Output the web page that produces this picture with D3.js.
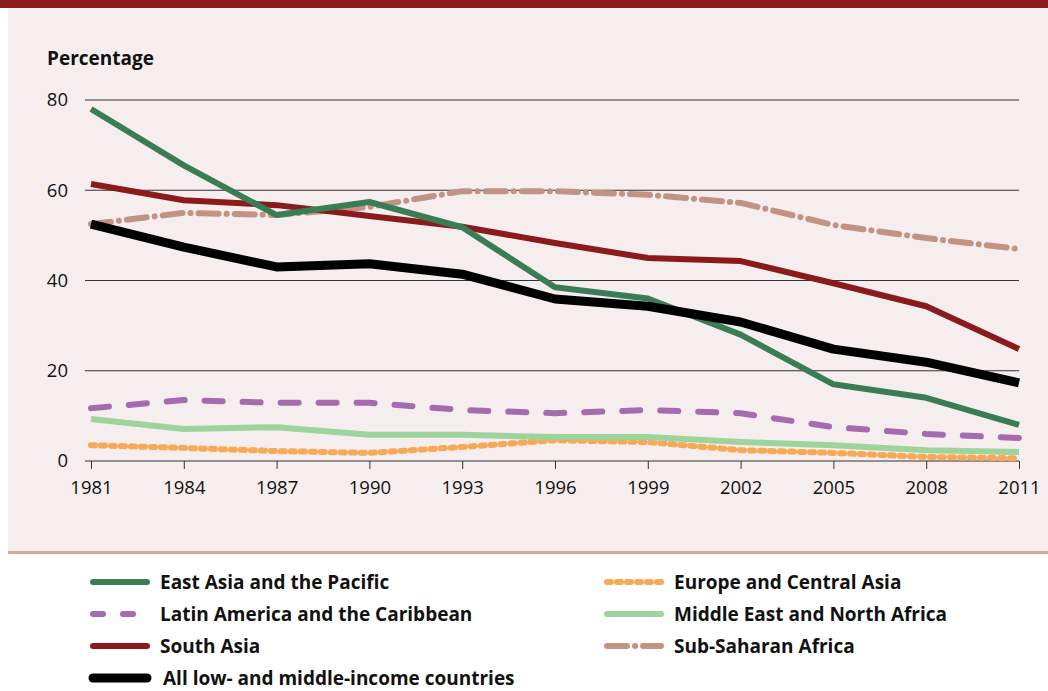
<!DOCTYPE html>
<html>
<head>
<meta charset="utf-8">
<script src="https://cdn.jsdelivr.net/npm/d3@7"></script>
<style>
  body { margin: 0; background: #fff; }
  svg text { font-family: "Open Sans", "Noto Sans", sans-serif; fill: #111; }
</style>
</head>
<body>
<div id="chart"></div>
<script>
// data
const years = [1981, 1984, 1987, 1990, 1993, 1996, 1999, 2002, 2005, 2008, 2011];
const eastAsia   = [78.0, 65.5, 54.5, 57.4, 51.8, 38.5, 36.0, 28.0, 17.0, 14.0, 8.0];
const europe     = [3.5, 2.9, 2.2, 1.8, 3.1, 4.6, 4.2, 2.4, 1.8, 0.9, 0.6];
const latinAm    = [11.7, 13.5, 12.9, 12.9, 11.3, 10.6, 11.3, 10.6, 7.5, 6.0, 5.1];
const midEast    = [9.3, 7.1, 7.5, 5.8, 5.8, 5.3, 5.3, 4.2, 3.5, 2.4, 2.0];
const southAsia  = [61.4, 57.8, 56.7, 54.3, 51.9, 48.3, 45.0, 44.3, 39.4, 34.3, 24.8];
const subSaharan = [52.5, 55.0, 54.5, 56.3, 59.8, 59.8, 59.0, 57.2, 52.3, 49.4, 47.0];
const allCountries = [52.5, 47.4, 43.0, 43.7, 41.4, 35.9, 34.3, 30.8, 24.8, 21.9, 17.3];
const yTicks = [0, 20, 40, 60, 80];

// drawing order: bottom to top
const series = [
  {name: "Sub-Saharan Africa", values: subSaharan, color: "#c29383", width: 6, dash: "20,8,0.1,8"},
  {name: "Europe and Central Asia", values: europe, color: "#f6aa57", width: 6, dash: "4,6"},
  {name: "Middle East and North Africa", values: midEast, color: "#9dd49c", width: 6, dash: null},
  {name: "Latin America and the Caribbean", values: latinAm, color: "#a46cae", width: 6, dash: "18,20"},
  {name: "South Asia", values: southAsia, color: "#8b1a1d", width: 6, dash: null},
  {name: "East Asia and the Pacific", values: eastAsia, color: "#3a7d55", width: 6, dash: null},
  {name: "All low- and middle-income countries", values: allCountries, color: "#000", width: 9, dash: null}
];

const width = 1048, height = 691;
const svg = d3.select("#chart").append("svg")
  .attr("width", width).attr("height", height);

// background panel
svg.append("rect").attr("x", 8).attr("y", 0).attr("width", width - 8).attr("height", 552)
  .attr("fill", "#f5edee");
svg.append("rect").attr("x", 0).attr("y", 0).attr("width", width).attr("height", 8)
  .attr("fill", "#8b1a1d");
svg.append("rect").attr("x", 8).attr("y", 551).attr("width", width - 8).attr("height", 3)
  .attr("fill", "#d4aa9c");

const x = d3.scalePoint().domain(years).range([91, 1019]);
const y = d3.scaleLinear().domain([0, 80]).range([461, 100]);

// gridlines
svg.append("g").selectAll("line")
  .data(yTicks.filter(d => d > 0))
  .enter().append("line")
    .attr("x1", 85).attr("x2", 1019)
    .attr("y1", d => y(d)).attr("y2", d => y(d))
    .attr("stroke", "#333").attr("stroke-width", 1);

// x axis
const xAxis = svg.append("g")
  .attr("transform", "translate(0," + y(0) + ")")
  .call(d3.axisBottom(x).tickSize(8).tickPadding(12));
xAxis.select(".domain").attr("d", "M85,0H1019").attr("stroke", "#333");
xAxis.selectAll(".tick line").attr("stroke", "#333");
xAxis.selectAll("text").style("font-size", "18.5px").attr("fill", "#111")
  .style("font-family", "'Open Sans', sans-serif");

// y labels
svg.append("g").selectAll("text")
  .data(yTicks)
  .enter().append("text")
    .attr("x", 68).attr("y", d => y(d))
    .attr("dy", "0.35em")
    .attr("text-anchor", "end")
    .style("font-size", "18.5px")
    .text(d => d);

svg.append("text")
  .attr("x", 47).attr("y", 65)
  .style("font-size", "19px").style("font-weight", "bold")
  .text("Percentage");

const line = d3.line()
  .x((d, i) => x(years[i]))
  .y(d => y(d));

svg.append("g").selectAll("path")
  .data(series)
  .enter().append("path")
    .attr("d", d => line(d.values))
    .attr("fill", "none")
    .attr("stroke", d => d.color)
    .attr("stroke-width", d => d.width)
    .attr("stroke-dasharray", d => d.dash)
    .attr("stroke-linecap", d => d.dash ? "round" : "butt")
    .attr("stroke-linejoin", "round");

// legend
const legendItems = [
  {s: series[5], col: 0, row: 0},
  {s: series[3], col: 0, row: 1},
  {s: series[4], col: 0, row: 2},
  {s: series[6], col: 0, row: 3},
  {s: series[1], col: 1, row: 0},
  {s: series[2], col: 1, row: 1},
  {s: series[0], col: 1, row: 2}
];
const legend = svg.append("g").selectAll("g")
  .data(legendItems)
  .enter().append("g")
    .attr("transform", d => "translate(" + (d.col ? 607 : 93) + "," + (582 + d.row * 32) + ")");

legend.append("line")
  .attr("x1", 0).attr("x2", 54)
  .attr("stroke", d => d.s.color)
  .attr("stroke-width", d => d.s.width)
  .attr("stroke-linecap", "round")
  .attr("stroke-dasharray", d => d.s.name.startsWith("Latin") ? "10,20" : d.s.dash);

legend.append("text")
  .attr("x", d => d.s.width > 6 ? 70 : 67)
  .attr("dy", "0.35em")
  .style("font-size", "19px").style("font-weight", "bold")
  .text(d => d.s.name);
</script>
</body>
</html>
